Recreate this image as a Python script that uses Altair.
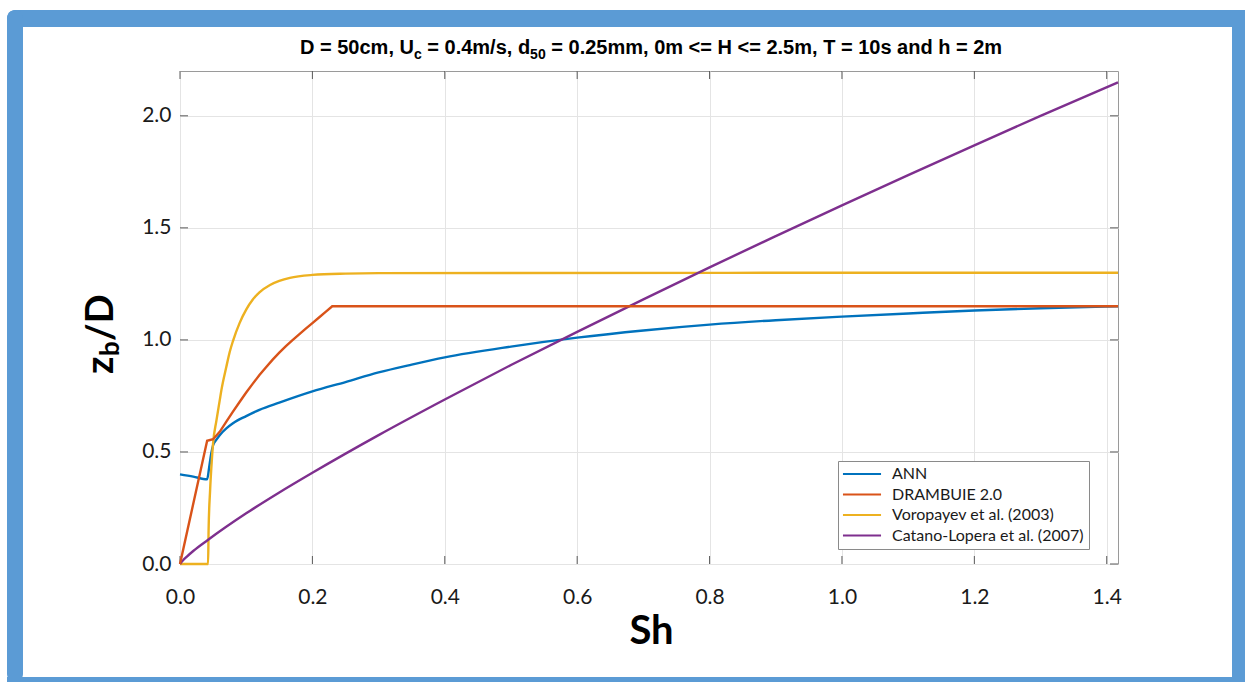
import altair as alt
import pandas as pd

# ---------------- data ----------------
series_names = ["ANN", "DRAMBUIE 2.0", "Voropayev et al. (2003)", "Catano-Lopera et al. (2007)"]
series_colors = ["#0072BD", "#D95319", "#EDB120", "#7E2F8E"]

sh_ann = [0.0, 0.02, 0.041, 0.044, 0.047, 0.05, 0.055, 0.06, 0.07, 0.08, 0.1, 0.12, 0.15, 0.2,
          0.25, 0.3, 0.35, 0.4, 0.5, 0.6, 0.7, 0.8, 0.9, 1.0, 1.1, 1.2, 1.3, 1.417]
zb_ann = [0.40, 0.39, 0.378, 0.43, 0.49, 0.53, 0.555, 0.575, 0.605, 0.628, 0.66, 0.688, 0.72,
          0.77, 0.812, 0.855, 0.89, 0.922, 0.97, 1.01, 1.042, 1.068, 1.088, 1.104, 1.118,
          1.131, 1.141, 1.15]

sh_dram = [0.0, 0.041, 0.05, 0.06, 0.07, 0.08, 0.09, 0.1, 0.11, 0.12, 0.13, 0.14, 0.15, 0.16,
           0.17, 0.18, 0.19, 0.2, 0.21, 0.22, 0.23, 1.417]
zb_dram = [0.0, 0.55, 0.557, 0.59, 0.635, 0.68, 0.723, 0.765, 0.805, 0.843, 0.878, 0.912,
           0.943, 0.972, 0.999, 1.025, 1.05, 1.075, 1.1, 1.125, 1.15, 1.15]

sh_voro = [0.0, 0.0424, 0.0432, 0.0455, 0.048, 0.05, 0.055, 0.06, 0.0626, 0.07, 0.075, 0.08,
           0.09, 0.1, 0.11, 0.12, 0.136, 0.15, 0.166, 0.2, 0.25, 0.3, 1.417]
zb_voro = [0.0, 0.0, 0.15, 0.33, 0.46, 0.54, 0.64, 0.73, 0.777, 0.88, 0.945, 0.995,
           1.075, 1.135, 1.18, 1.212, 1.245, 1.263, 1.277, 1.29, 1.296, 1.298, 1.30]

sh_cata = [0.0, 0.005, 0.01, 0.02, 0.042, 0.1, 0.15, 0.2, 0.3, 0.4, 0.5, 0.6, 0.7, 0.8, 0.9,
           1.0, 1.1, 1.2, 1.3, 1.417]
zb_cata = [0.0, 0.018, 0.032, 0.058, 0.107, 0.226, 0.319, 0.407, 0.575, 0.734, 0.888, 1.036,
           1.181, 1.324, 1.463, 1.60, 1.735, 1.868, 2.0, 2.149]

x_ticks = [0, 0.2, 0.4, 0.6, 0.8, 1.0, 1.2, 1.4]
y_ticks = [0, 0.5, 1.0, 1.5, 2.0]

title_parts = ["D = 50cm, U", "c", "= 0.4m/s, d", "50",
               "= 0.25mm, 0m <= H <= 2.5m, T = 10s and h = 2m"]
ylabel_parts = ["z", "b", "/D"]

# ---------------- layout ----------------
W, H = 938, 493
PL, PT = 180, 71
PR, PB = 1245 - PL - W, 682 - PT - H

rows = []
for name, xs, ys in zip(series_names, [sh_ann, sh_dram, sh_voro, sh_cata],
                        [zb_ann, zb_dram, zb_voro, zb_cata]):
    for i, (a, b) in enumerate(zip(xs, ys)):
        rows.append({"series": name, "Sh": a, "zb": b, "ord": i})
df = pd.DataFrame(rows)

xscale = alt.Scale(domain=[0, 1.417], nice=False, zero=False)
yscale = alt.Scale(domain=[0, 2.2], nice=False, zero=False)
GRID = "#e4e4e4"

xaxis = alt.Axis(values=x_ticks, format=".1f", title="Sh", grid=True, gridColor=GRID,
                 ticks=False, domain=False, labelFont="Lato", labelFontSize=21,
                 labelColor="#1a1a1a", labelPadding=22, labelFlush=False,
                 labelOverlap=False, titleFont="Lato", titleFontSize=40,
                 titleFontWeight="bold", titleColor="#000000", titleX=471, titleY=79,
                 titleBaseline="alphabetic", titleAnchor="middle", titleAlign="center")
yaxis = alt.Axis(values=y_ticks, format=".1f", title=None, grid=True, gridColor=GRID,
                 ticks=False, domain=False, labelFont="Lato", labelFontSize=21,
                 labelColor="#1a1a1a", labelPadding=9, labelFlush=False,
                 labelOverlap=False)

color = alt.Color(
    "series:N", scale=alt.Scale(domain=series_names, range=series_colors),
    legend=alt.Legend(orient="none", legendX=838 - PL, legendY=461 - PT, title=None,
                      direction="vertical", fillColor="#ffffff", strokeColor="#8a8a8a",
                      padding=5, symbolType="M-5,0H5", symbolSize=58,
                      symbolStrokeWidth=2.2, symbolOffset=11, labelFont="Lato",
                      labelFontSize=16, labelColor="#1a1a1a", labelOffset=22,
                      labelLimit=400, rowPadding=4.5))

base = alt.Chart(df).encode(
    x=alt.X("Sh:Q", scale=xscale, axis=xaxis),
    y=alt.Y("zb:Q", scale=yscale, axis=yaxis),
    color=color,
    order="ord:Q",
)
smooth = base.mark_line(strokeWidth=2.4, clip=False, interpolate="monotone").transform_filter(
    alt.datum.series != series_names[1])
straight = base.mark_line(strokeWidth=2.4, clip=False).transform_filter(
    alt.datum.series == series_names[1])

xt = pd.DataFrame({"Sh": x_ticks})
yt = pd.DataFrame({"zb": y_ticks})
TICK = "#5a5a5a"
tb = alt.Chart(xt).mark_rule(color=TICK, strokeWidth=1).encode(
    x=alt.X("Sh:Q", scale=xscale, axis=xaxis), y=alt.value(H), y2=alt.value(H - 8))
tt = alt.Chart(xt).mark_rule(color=TICK, strokeWidth=1).encode(
    x=alt.X("Sh:Q", scale=xscale, axis=xaxis), y=alt.value(0), y2=alt.value(8))
tl = alt.Chart(yt).mark_rule(color=TICK, strokeWidth=1).encode(
    y=alt.Y("zb:Q", scale=yscale, axis=yaxis), x=alt.value(0), x2=alt.value(8))
tr = alt.Chart(yt).mark_rule(color=TICK, strokeWidth=1).encode(
    y=alt.Y("zb:Q", scale=yscale, axis=yaxis), x=alt.value(W), x2=alt.value(W - 8))

one = pd.DataFrame({"k": [0]})
BLUE = "#5B9BD5"


def strip(x1, x2, y1, y2, r=0):
    return alt.Chart(one).mark_rect(color=BLUE, cornerRadius=r).encode(
        x=alt.value(x1 - PL), x2=alt.value(x2 - PL), y=alt.value(y1 - PT), y2=alt.value(y2 - PT))


frame = [strip(7, 1245, 10, 27, 9), strip(7, 23, 10, 682, 9),
         strip(1232, 1245, 10, 682), strip(7, 1245, 677, 682)]


def txt(s, x, y, size, font="Liberation Sans", angle=0, weight="bold"):
    m = alt.Chart(one).mark_text(align="left", baseline="alphabetic", font=font, fontSize=size,
                                 fontWeight=weight, color="#000000", angle=angle)
    return m.encode(x=alt.value(x - PL), y=alt.value(y - PT), text=alt.value(s))


TF, TS = 20, 14
TY = 54
title = [
    txt(title_parts[0], 300, TY, TF),
    txt(title_parts[1], 414, TY + 5, TS),
    txt(title_parts[2], 427.3, TY, TF),
    txt(title_parts[3], 530.1, TY + 5, TS),
    txt(title_parts[4], 551.3, TY, TF),
]

YF, YS = 38, 26
ylab = [
    txt(ylabel_parts[0], 113, 374, YF, font="Lato", angle=270),
    txt(ylabel_parts[1], 119, 356, YS, font="Lato", angle=270),
    txt(ylabel_parts[2], 113, 341, YF, font="Lato", angle=270),
]

chart = alt.layer(*frame, tb, tt, tl, tr, smooth, straight, *title, *ylab).properties(
    width=W, height=H, padding={"left": PL, "top": PT, "right": PR, "bottom": PB},
    autosize=alt.AutoSizeParams(type="none"), background="#ffffff",
).configure_view(stroke="#9a9a9a", strokeWidth=1)

chart.save("out.html", embed_options={"renderer": "svg", "actions": False})
